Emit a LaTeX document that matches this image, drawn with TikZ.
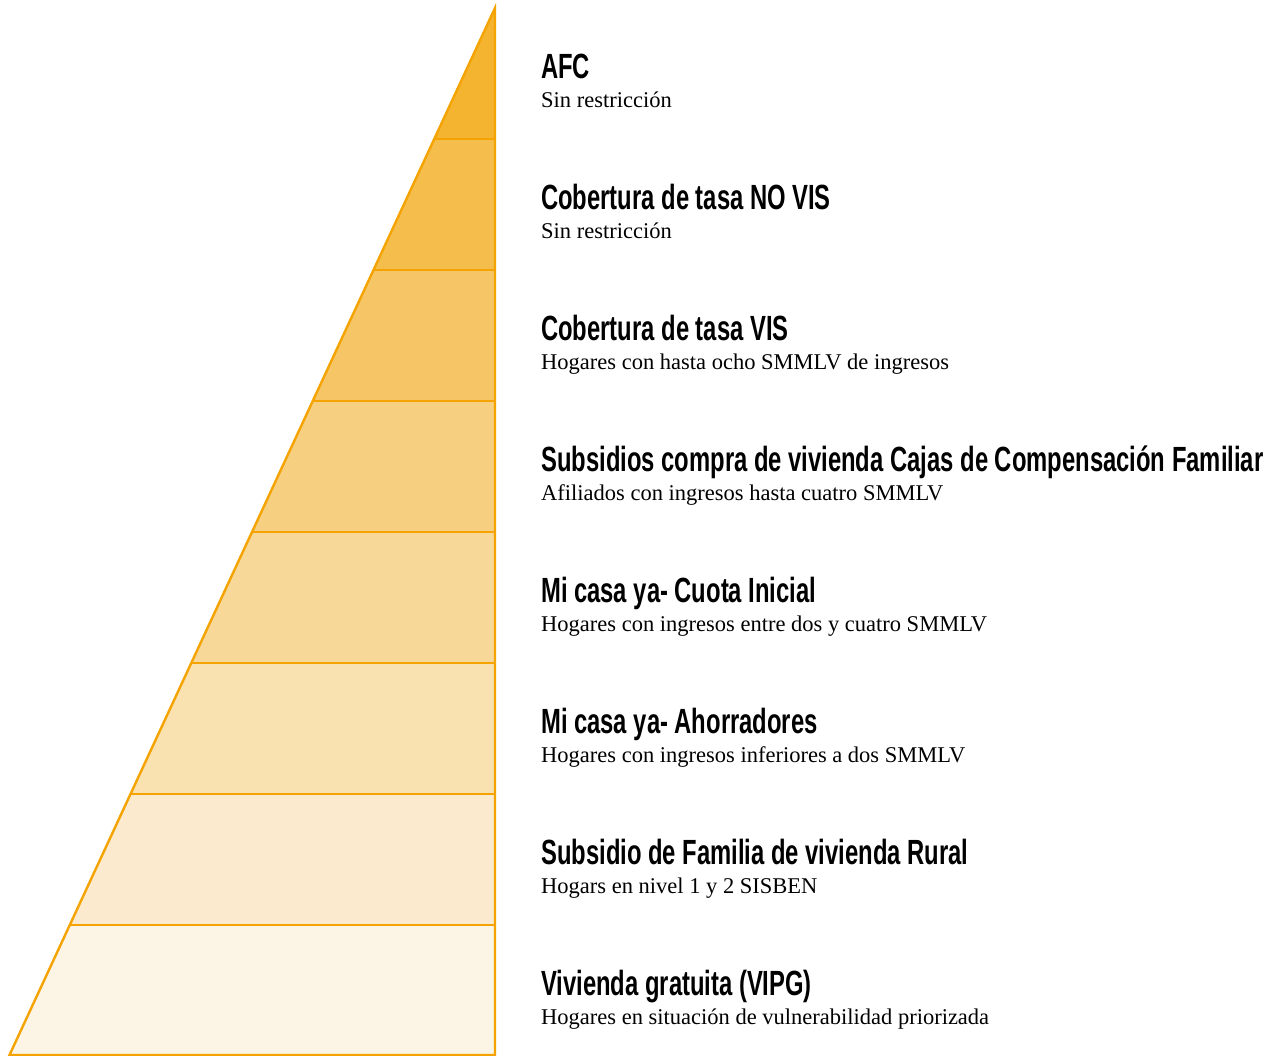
\documentclass[tikz,border=0pt]{standalone}
\usepackage{fontspec}
\setmainfont{Liberation Serif}
\newfontfamily\titlefont[FakeStretch=0.68]{Liberation Sans Bold}
\definecolor{edge}{HTML}{F5A300}
\definecolor{c1}{HTML}{F4B42F}
\definecolor{c2}{HTML}{F4BD4C}
\definecolor{c3}{HTML}{F6C666}
\definecolor{c4}{HTML}{F7CF80}
\definecolor{c5}{HTML}{F8D898}
\definecolor{c6}{HTML}{FAE1B0}
\definecolor{c7}{HTML}{FBEACD}
\definecolor{c8}{HTML}{FCF4E4}
\tikzset{
  band/.style={draw=edge, line width=2.4pt, line join=miter},
  ttl/.style={anchor=base west, inner sep=0pt, font=\titlefont\fontsize{35}{38}\selectfont},
  sub/.style={anchor=base west, inner sep=0pt, font=\fontsize{22.5}{25}\selectfont}
}
\begin{document}
\begin{tikzpicture}[x=1pt,y=-1pt]
\useasboundingbox (0,0) rectangle (1274,1055);
\fill[c1] (495,8) -- (434.3,139) -- (495,139) -- cycle;
\fill[c2] (434.3,139) -- (373.5,270) -- (495,270) -- (495,139) -- cycle;
\fill[c3] (373.5,270) -- (312.8,401) -- (495,401) -- (495,270) -- cycle;
\fill[c4] (312.8,401) -- (252.0,532) -- (495,532) -- (495,401) -- cycle;
\fill[c5] (252.0,532) -- (191.3,663) -- (495,663) -- (495,532) -- cycle;
\fill[c6] (191.3,663) -- (130.5,794) -- (495,794) -- (495,663) -- cycle;
\fill[c7] (130.5,794) -- (69.8,925) -- (495,925) -- (495,794) -- cycle;
\fill[c8] (69.8,925) -- (9.5,1055) -- (495,1055) -- (495,925) -- cycle;
\draw[band] (495,8) -- (9.5,1055) -- (495,1055) -- cycle;
\foreach \y/\x in {139/434.3,270/373.5,401/312.8,532/252.0,663/191.3,794/130.5,925/69.8}
  \draw[band] (\x,\y) -- (495,\y);
\node[ttl] (t1) at (541,78) {AFC};
\node[sub] (s1) at (541,107) {Sin restricción};
\node[ttl] (t2) at (541,209) {Cobertura de tasa NO VIS};
\node[sub] (s2) at (541,238) {Sin restricción};
\node[ttl] (t3) at (541,340) {Cobertura de tasa VIS};
\node[sub] (s3) at (541,369) {Hogares con hasta ocho SMMLV de ingresos};
\node[ttl] (t4) at (541,471) {Subsidios compra de vivienda Cajas de Compensación Familiar};
\node[sub] (s4) at (541,500) {Afiliados con ingresos hasta cuatro SMMLV};
\node[ttl] (t5) at (541,602) {Mi casa ya- Cuota Inicial};
\node[sub] (s5) at (541,631) {Hogares con ingresos entre dos y cuatro SMMLV};
\node[ttl] (t6) at (541,733) {Mi casa ya- Ahorradores};
\node[sub] (s6) at (541,762) {Hogares con ingresos inferiores a dos SMMLV};
\node[ttl] (t7) at (541,864) {Subsidio de Familia de vivienda Rural};
\node[sub] (s7) at (541,893) {Hogars en nivel 1 y 2 SISBEN};
\node[ttl] (t8) at (541,995) {Vivienda gratuita (VIPG)};
\node[sub] (s8) at (541,1024) {Hogares en situación de vulnerabilidad priorizada};
\end{tikzpicture}
\end{document}
